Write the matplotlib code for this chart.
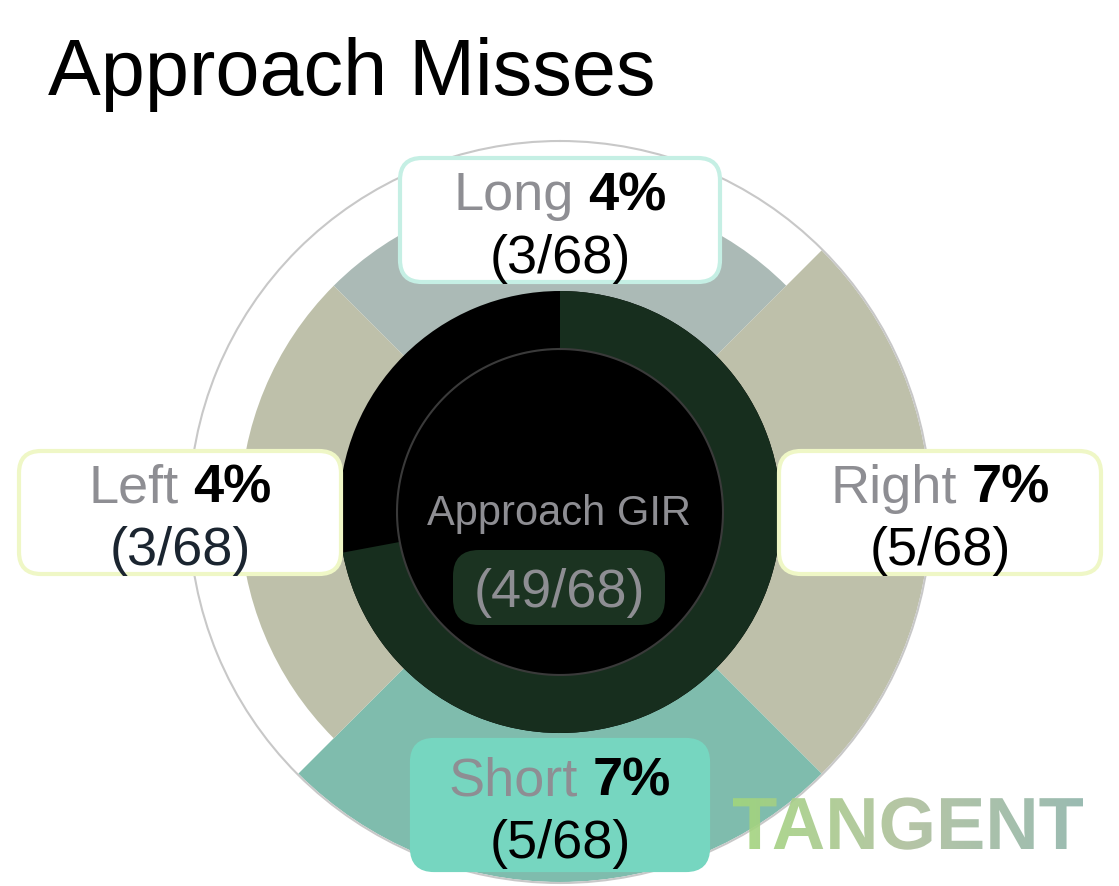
import numpy as np
import matplotlib.pyplot as plt
from matplotlib.patches import FancyBboxPatch, PathPatch
from matplotlib.textpath import TextPath
from matplotlib.font_manager import FontProperties
from matplotlib.transforms import Affine2D
from matplotlib.colors import LinearSegmentedColormap

plt.rcParams['font.family'] = ['Liberation Sans', 'DejaVu Sans']

# Данные
miss_labels = ['Long', 'Right', 'Short', 'Left']
miss_counts = [3, 5, 5, 3]
miss_angles = [0, 90, 180, 270]      # по часовой от 12 часов
total_shots = 68
gir_hits = 49

# Стиль
wedge_colors = ['#abbab6', '#bec0aa', '#7fbcad', '#bec0aa']
box_fill = ['white', 'white', '#76d6c0', 'white']
box_edge = ['#c5efe4', '#eff7c6', '#76d6c0', '#eff7c6']
count_colors = ['black', 'black', 'black', '#1b2530']
gray = '#8e8e93'

W, H = 1119, 886
cx, cy, R = 560, 512, 371
r_out, r_in = 221, 163
r_base, r_step = 245, 25

fig = plt.figure(figsize=(W / 100, H / 100), dpi=100)

# Полярная часть
ax = fig.add_axes([(cx - R) / W, (H - cy - R) / H, 2 * R / W, 2 * R / H], projection='polar')
ax.set_theta_zero_location('N')
ax.set_theta_direction(-1)
ax.set_ylim(0, R)
ax.grid(False)
ax.set_xticks([])
ax.set_yticks([])
ax.set_facecolor('white')
ax.spines['polar'].set_color('#c8c8c8')
ax.spines['polar'].set_linewidth(1.5)

theta = np.deg2rad(miss_angles)
radii = [r_base + r_step * c for c in miss_counts]
ax.bar(theta, radii, width=np.pi / 2, bottom=0, color=wedge_colors, linewidth=0, zorder=1)

frac = gir_hits / total_shots
ax.bar(0, r_out, width=2 * np.pi, bottom=0, color='black', linewidth=0, zorder=2)
ax.bar(np.pi * frac, r_out - r_in, width=2 * np.pi * frac, bottom=r_in,
       color='#172e1e', linewidth=0, zorder=3)
t = np.linspace(0, 2 * np.pi, 400)
ax.plot(t, np.full_like(t, r_in), color='#3a3a3a', lw=1.5, zorder=4)

# Слой подписей в пикселях
ov = fig.add_axes([0, 0, 1, 1], zorder=5)
ov.set_autoscale_on(False)
ov.set_xlim(0, W)
ov.set_ylim(H, 0)
ov.axis('off')
ov.patch.set_alpha(0)

ov.text(48, 95, 'Approach Misses', fontsize=57, color='black', ha='left', va='baseline')

# Центр
ov.text(559, 525, 'Approach GIR', fontsize=30, color=gray, ha='center', va='baseline')
ov.add_patch(FancyBboxPatch((453, 550), 212, 75, boxstyle='round,pad=0,rounding_size=26',
                            fc='#1b3321', ec='none'))
ov.text(559, 607, f'({gir_hits}/{total_shots})', fontsize=39, color=gray,
        ha='center', va='baseline')

# Плашки
boxes = [(560, 220, 320, 124), (940, 512.5, 322, 123), (560, 805, 296, 130), (180, 512.5, 322, 123)]
lbl_size = 39
renderer = fig.canvas.get_renderer()
for i, name in enumerate(miss_labels):
    bx, by, bw, bh = boxes[i]
    ov.add_patch(FancyBboxPatch((bx - bw / 2, by - bh / 2), bw, bh,
                                boxstyle='round,pad=0,rounding_size=22',
                                fc=box_fill[i], ec=box_edge[i], lw=3, zorder=2))
    pct = round(100 * miss_counts[i] / total_shots)
    t1 = ov.text(0, by - 10, name, fontsize=lbl_size, color=gray, ha='left', va='baseline', zorder=3)
    t2 = ov.text(0, by - 10, f'{pct}%', fontsize=lbl_size, color='black', fontweight='bold',
                 ha='left', va='baseline', zorder=3)
    w1 = t1.get_window_extent(renderer).width
    w2 = t2.get_window_extent(renderer).width
    gap = 0.278 * lbl_size * 100 / 72
    x0 = bx - (w1 + gap + w2) / 2
    t1.set_x(x0)
    t2.set_x(x0 + w1 + gap)
    ov.text(bx, by + 53, f'({miss_counts[i]}/{total_shots})', fontsize=lbl_size,
            color=count_colors[i], ha='center', va='baseline', zorder=3)

# Водяной знак
fp = FontProperties(family='Liberation Sans', weight='bold')
tp = TextPath((0, 0), 'TANGENT', size=72, prop=fp)
ext = tp.get_extents()
s = 350 / ext.width
path = Affine2D().translate(-ext.x0, 0).scale(s, -s).translate(733, 849).transform_path(tp)
grad = np.linspace(0, 1, 256).reshape(1, -1)
cmap = LinearSegmentedColormap.from_list('tg', ['#a2d67c', '#aebf9c', '#8fb4a9'])
im = ov.imshow(grad, cmap=cmap, extent=(733, 1083, 855, 795), aspect='auto', alpha=0.9, zorder=6)
im.set_clip_path(PathPatch(path, transform=ov.transData))
ov.set_xlim(0, W)
ov.set_ylim(H, 0)

fig.savefig('out.png', dpi=100)
